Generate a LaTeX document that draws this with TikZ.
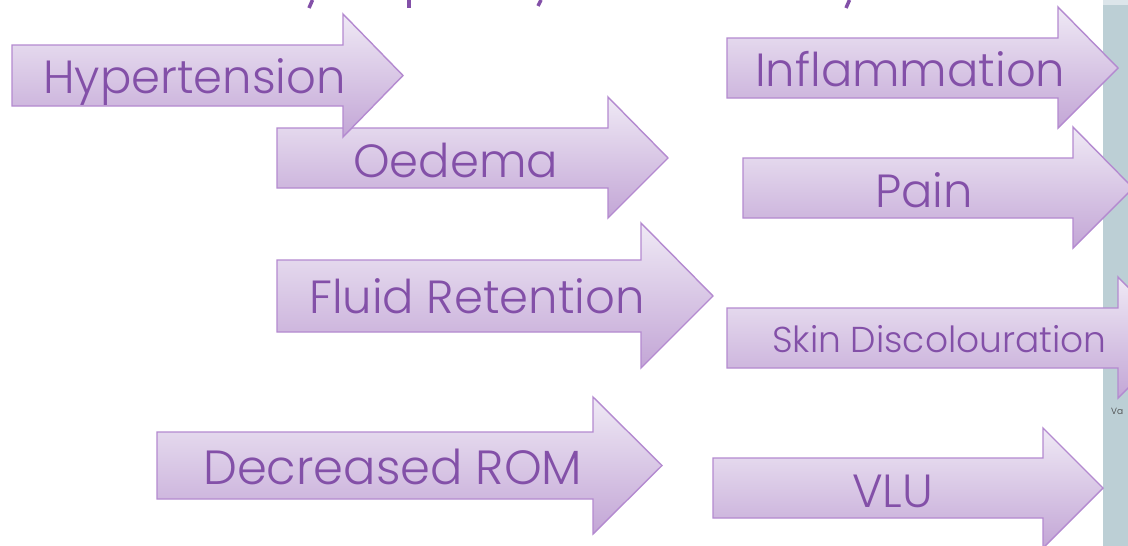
\documentclass[tikz,border=0pt]{standalone}
\usepackage{fontspec}
\IfFontExistsTF{Poppins Light}{\setmainfont{Poppins Light}}{\setmainfont{Poppins}}
\definecolor{txt}{HTML}{8350A8}
\definecolor{edge}{HTML}{B48AD0}
\definecolor{topc}{HTML}{EFE9F5}
\definecolor{botc}{HTML}{C3A6D6}
\definecolor{panel}{HTML}{BCCFD5}
\definecolor{panellight}{HTML}{DCE5EA}
\tikzset{
  arr/.style={draw=edge, line width=1.4pt, top color=topc, bottom color=botc, line join=miter},
  lbl/.style={anchor=base west, inner sep=0pt, text=txt, font=\fontsize{46.5}{50}\selectfont},
  lblbig/.style={lbl, font=\fontsize{48}{50}\selectfont},
  lblsmall/.style={lbl, font=\fontsize{36}{40}\selectfont},
  frag/.style={draw=txt, line width=3.5pt}
}
\newcommand\symarrow[8]{\path[arr] (#1,#2) -- (#4,#2) -- (#4,#5) -- (#6,#7) -- (#4,#8) -- (#4,#3) -- (#1,#3) -- cycle;}
\begin{document}
\begin{tikzpicture}[x=1pt,y=-1pt]
\useasboundingbox (0,0) rectangle (1128,546);
\clip (0,0) rectangle (1128,546);
\fill[white] (0,0) rectangle (1128,546);
% right panel
\fill[panel] (1103,0) rectangle (1128,546);
\fill[panellight] (1103,0) rectangle (1128,5);
\node[anchor=west, inner sep=0pt, text=black!75, font=\fontsize{9}{10}\selectfont] (va) at (1111,411) {Va};
% title fragments
\draw[frag] (312.5,0) -- (309,8);
\draw[frag] (409,0) -- (409,8);
\draw[frag] (541,0) -- (538,6);
\draw[frag] (849.5,0) -- (846,8);
% arrows
\symarrow{277}{128}{188}{608}{97}{668}{158}{218}
\symarrow{12}{45}{106}{343}{14}{403}{75.5}{137}
\symarrow{277}{260}{332}{641}{223}{713}{296}{368}
\symarrow{157}{432}{499}{593}{397}{662}{465.5}{534}
\symarrow{727}{38}{98}{1058}{7}{1118}{68}{128}
\symarrow{743}{158}{218}{1073}{127}{1133}{188}{248}
\symarrow{727}{308}{368}{1118}{277}{1178}{338}{398}
\symarrow{713}{458}{518}{1043}{428}{1103}{488}{548}
% labels
\node[lbl] (hyp) at (43,93) {Hypertension};
\node[lbl] (oed) at (353,177) {Oedema};
\node[lbl] (flu) at (309,313) {Fluid Retention};
\node[lblbig] (dec) at (203,484) {Decreased ROM};
\node[lbl] (inf) at (755,86) {Inflammation};
\node[lbl] (pain) at (875,207) {Pain};
\node[lblsmall] (skin) at (772,352) {Skin Discolouration};
\node[lbl] (vlu) at (852,507) {VLU};
\end{tikzpicture}
\end{document}
